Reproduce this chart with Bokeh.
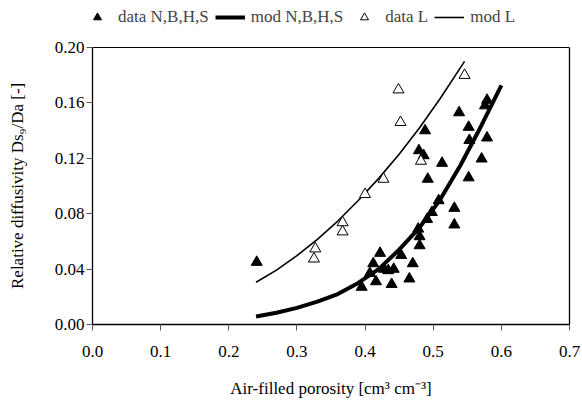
from bokeh.plotting import figure
from bokeh.models import (Legend, LegendItem, FixedTicker, NumeralTickFormatter, Range1d,
                          LinearAxis, Span)
from bokeh.embed import file_html
from bokeh.resources import INLINE

# data N,B,H,S (filled triangles)
nbhs_x = [0.241, 0.395, 0.407, 0.412, 0.416, 0.422, 0.434, 0.442, 0.439, 0.453,
          0.470, 0.465, 0.480, 0.480, 0.478, 0.491, 0.498, 0.508, 0.531, 0.531,
          0.492, 0.552, 0.513, 0.486, 0.479, 0.571, 0.553, 0.579, 0.488, 0.552,
          0.538, 0.576, 0.579, 0.428]
nbhs_y = [0.045, 0.027, 0.037, 0.044, 0.031, 0.0515, 0.039, 0.040, 0.029, 0.050,
          0.044, 0.033, 0.0635, 0.057, 0.069, 0.076, 0.081, 0.0895, 0.084, 0.072,
          0.105, 0.106, 0.1165, 0.122, 0.1256, 0.1196, 0.133, 0.1348, 0.140, 0.1425,
          0.153, 0.158, 0.162, 0.040]

# data L (open triangles)
l_x = [0.452, 0.482, 0.427, 0.400, 0.367, 0.367, 0.327, 0.325, 0.449, 0.546]
l_y = [0.146, 0.118, 0.105, 0.094, 0.0736, 0.067, 0.0547, 0.0474, 0.1695, 0.180]

# model curves
mod_nbhs_x = [0.24, 0.27, 0.30, 0.33, 0.36, 0.39, 0.42, 0.45, 0.48, 0.51, 0.54, 0.57, 0.60]
mod_nbhs_y = [0.0058, 0.0085, 0.012, 0.0165, 0.022, 0.030, 0.040, 0.054, 0.070, 0.090, 0.115, 0.143, 0.1726]

mod_l_x = [0.24, 0.27, 0.30, 0.33, 0.36, 0.39, 0.42, 0.45, 0.48, 0.51, 0.546]
mod_l_y = [0.0305, 0.0393, 0.0497, 0.0614, 0.0747, 0.0895, 0.1055, 0.123, 0.142, 0.163, 0.190]

x_ticks = [0.0, 0.1, 0.2, 0.3, 0.4, 0.5, 0.6, 0.7]
y_ticks = [0.00, 0.04, 0.08, 0.12, 0.16, 0.20]
x_min, x_max = 0.0, 0.7
y_min, y_max = 0.0, 0.2

series_labels = ["data N,B,H,S", "mod N,B,H,S", "data L", "mod L"]
x_title = "Air-filled porosity [cm³ cm⁻³]"
y_title = "Relative diffusivity Ds₉/Da [-]"

FONT = "Liberation Serif"
FS = "17px"

# layout (pixels): plot box from y=47 to y=324; frame extended to the top edge so
# that the legend can sit inside it
W, H = 582, 410
BOX_TOP, BOX_BOTTOM = 47, 324
frame_h = BOX_BOTTOM
y_top = y_min + (y_max - y_min) * frame_h / (BOX_BOTTOM - BOX_TOP)

p = figure(width=W, height=H, output_backend="svg", toolbar_location=None,
           x_range=Range1d(x_min, x_max), y_range=Range1d(y_min, y_top),
           min_border_left=92, min_border_right=13, min_border_top=0,
           min_border_bottom=H - BOX_BOTTOM)
p.xgrid.visible = False
p.ygrid.visible = False
p.outline_line_color = None
p.background_fill_color = "white"
p.border_fill_color = "white"

for ax, ticks, fmt in ((p.xaxis[0], x_ticks, "0.0"), (p.yaxis[0], y_ticks, "0.00")):
    ax.ticker = FixedTicker(ticks=ticks)
    ax.formatter = NumeralTickFormatter(format=fmt)
    ax.minor_tick_line_color = None
    ax.major_tick_in = 0
    ax.major_tick_out = 6
    ax.axis_line_color = "black"
    ax.axis_line_width = 1.3
    ax.major_tick_line_color = "#555555"
    ax.major_label_text_font = FONT
    ax.major_label_text_font_size = FS
    ax.major_label_text_color = "black"
    ax.axis_label_text_font = FONT
    ax.axis_label_text_font_size = FS
    ax.axis_label_text_font_style = "normal"
    ax.axis_label_text_color = "black"

p.yaxis[0].bounds = (y_min, y_max)
p.xaxis.axis_label = x_title
# trailing no-break spaces keep the rotated title centred on the plot box
# (the frame runs up to the legend)
p.yaxis.axis_label = y_title + "\u00a0" * 11
p.xaxis.major_label_standoff = 15
p.xaxis.axis_label_standoff = 19
p.yaxis.major_label_standoff = 2
p.yaxis.axis_label_standoff = 25

# right and top edges of the plot box
right_axis = LinearAxis(bounds=(y_min, y_max), ticker=FixedTicker(ticks=[]),
                        major_label_text_font_size="0px", axis_line_color="black",
                        axis_line_width=1.3, minor_tick_line_color=None,
                        major_tick_line_color=None)
p.add_layout(right_axis, "right")
p.add_layout(Span(location=y_max, dimension="width", line_color="black", line_width=1))

r_mod_l = p.line(mod_l_x, mod_l_y, line_color="black", line_width=1.6)
r_mod_n = p.line(mod_nbhs_x, mod_nbhs_y, line_color="black", line_width=4)
r_data_n = p.scatter(nbhs_x, nbhs_y, marker="triangle", size=11,
                     fill_color="black", line_color="black", line_width=1)
r_data_l = p.scatter(l_x, l_y, marker="triangle", size=11,
                     fill_color="white", line_color="black", line_width=1)

legend = Legend(items=[LegendItem(label=t, renderers=[r]) for t, r in
                       zip(series_labels, [r_data_n, r_mod_n, r_data_l, r_mod_l])],
                orientation="horizontal", location=(-10, frame_h - 27))
legend.border_line_alpha = 0
legend.background_fill_alpha = 0
legend.label_text_font = FONT
legend.label_text_font_size = FS
legend.glyph_width = 30
legend.label_standoff = 6
legend.spacing = 6
legend.padding = 0
legend.margin = 0
p.add_layout(legend, "center")

open("out.html", "w").write(file_html(p, INLINE))
